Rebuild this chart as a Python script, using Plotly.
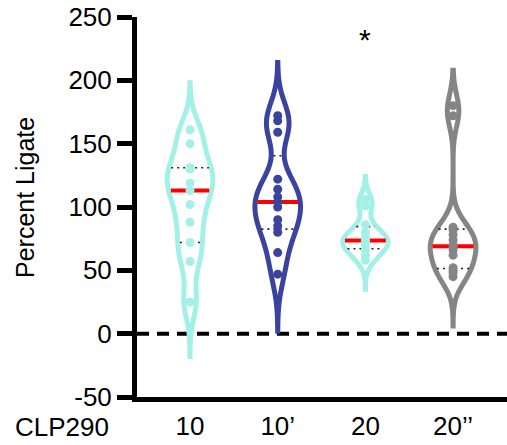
import numpy as np
import plotly.graph_objects as go

# ---- data ----
categories = ["10", "10’", "20", "20’’"]
v10 = [25, 57, 72, 88, 102, 113, 119, 130, 131, 150, 161]
v10p = [47, 64, 80, 85, 90, 100, 104, 108, 114, 122, 159, 168, 172]
v20 = [58, 62, 66, 70, 72, 73, 74, 76, 80, 86, 101, 106]
v20pp = [45, 48, 50, 52, 62, 66, 68, 70, 74, 78, 82, 84, 172, 180]
series = [v10, v10p, v20, v20pp]
bandwidths = [13, 15, 7, 12]
spans = [[-18, 198], [2, 214], [35, 124], [6, 208]]
colors = ["#A3F1E6", "#3A439D", "#A3F1E6", "#858585"]
y_ticks = [-50, 0, 50, 100, 150, 200, 250]
y_ticktext = ["-50", "0", "50", "100", "150", "200", "250"]
star_text = "*"
star_group = 2
star_y = 232

VW = 0.52  # violin full width in category units

fig = go.Figure()


def kde(data, bw, grid):
    d = np.asarray(data, dtype=float)[:, None]
    return np.exp(-0.5 * ((grid[None, :] - d) / bw) ** 2).sum(0)


# violins (outline + white fill)
for i, (vals, bw, sp, col) in enumerate(zip(series, bandwidths, spans, colors)):
    fig.add_trace(go.Violin(
        x0=i, y=vals, bandwidth=bw, spanmode="manual", span=sp,
        width=VW, scalemode="width", points=False,
        line=dict(color=col, width=5), fillcolor="white",
        box_visible=False, meanline_visible=False,
        hoveron="violins", showlegend=False,
    ))

# median / quartile lines
for i, (vals, bw, sp) in enumerate(zip(series, bandwidths, spans)):
    grid = np.linspace(sp[0], sp[1], 600)
    dens = kde(vals, bw, grid)
    dmax = dens.max()
    q1, med, q3 = np.percentile(vals, [25, 50, 75], method="weibull")
    for q, style in [(q1, "q"), (q3, "q"), (med, "m")]:
        hw = VW / 2 * kde(vals, bw, np.array([q]))[0] / dmax - 0.025
        if hw <= 0:
            continue
        if style == "m":
            ln = dict(color="#FF0000", width=4)
        else:
            ln = dict(color="#222222", width=1.6, dash="2px,4px")
        fig.add_trace(go.Scatter(
            x=[i - hw, i + hw], y=[q, q], mode="lines", line=ln,
            hoverinfo="skip", showlegend=False,
        ))

# data points
for i, (vals, col) in enumerate(zip(series, colors)):
    fig.add_trace(go.Scatter(
        x=[i] * len(vals), y=vals, mode="markers",
        marker=dict(color=col, size=9), showlegend=False,
    ))

font = "Arial, Liberation Sans, sans-serif"

fig.add_shape(type="line", xref="paper", x0=0, x1=1, yref="y", y0=0, y1=0,
              line=dict(color="black", width=4, dash="12px,8px"), layer="below")

fig.add_annotation(x=star_group, y=star_y, text=star_text, showarrow=False,
                   font=dict(size=30, color="black", family=font), yanchor="middle")
fig.add_annotation(xref="paper", yref="paper", x=-0.303, y=0.526, text="Percent Ligate",
                   textangle=-90, showarrow=False, xanchor="center", yanchor="middle",
                   font=dict(size=25, color="black", family=font))
fig.add_annotation(xref="paper", yref="paper", x=-0.07, y=-0.079, text="CLP290",
                   xanchor="right", yanchor="middle", showarrow=False,
                   font=dict(size=26, color="black", family=font))

fig.update_layout(
    template="none",
    width=507, height=445,
    margin=dict(l=137, r=0, t=17, b=48, pad=0),
    paper_bgcolor="white", plot_bgcolor="white",
    font=dict(family=font, color="black", size=26),
    xaxis=dict(range=[-0.605, 3.615], tickvals=[0, 1, 2, 3], ticktext=categories,
               showline=True, linewidth=5, linecolor="black", ticks="",
               showgrid=False, zeroline=False, ticklabelstandoff=2,
               automargin=False, tickfont=dict(size=26)),
    yaxis=dict(range=[-50, 250], tickvals=y_ticks, ticktext=y_ticktext,
               showline=True, linewidth=5,
               linecolor="black", ticks="outside", ticklen=15, tickwidth=5,
               tickcolor="black", showgrid=False, zeroline=False,
               automargin=False, tickfont=dict(size=26)),
    violingap=0, violinmode="overlay",
)

fig.write_html("out.html", config={"displayModeBar": False},
               post_script="document.body.style.margin='0';document.body.style.padding='0';")
